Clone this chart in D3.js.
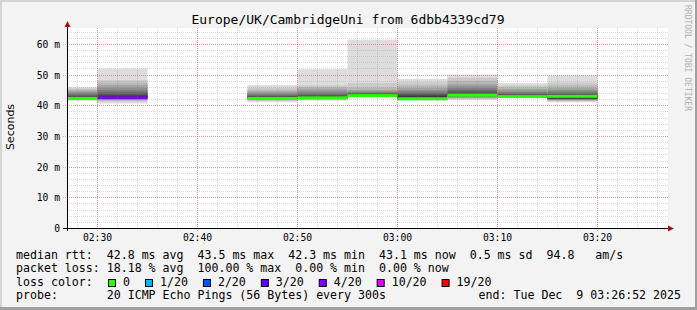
<!DOCTYPE html>
<html>
<head>
<meta charset="utf-8">
<script src="https://cdn.jsdelivr.net/npm/d3@7"></script>
<style>
  html, body { margin: 0; padding: 0; background: #f3f3f3; }
  svg { display: block; }
  text { font-family: "DejaVu Sans Mono", monospace; fill: #000; }
</style>
</head>
<body>
<svg id="chart" width="697" height="310"></svg>
<script>
// ---- data ----
var title = "Europe/UK/CambridgeUni from 6dbb4339cd79";

// each step is 300s, the value is stamped at the end of the step
var stepEnds = ["02:30", "02:35", "02:40", "02:45", "02:50", "02:55", "03:00", "03:05", "03:10", "03:15", "03:20"];
var medians = [42.4, 42.6, null, null, 42.4, 42.6, 43.3, 42.3, 43.5, 43.0, 43.1];
var lossCounts = [0, 4, 20, 20, 0, 0, 0, 0, 0, 0, 0];

// sorted ping rtts (ms) for every step, null when everything was lost
var pings = [
    [41.5, 41.8, 42.0, 42.1, 42.2, 42.3, 42.3, 42.4, 42.4, 42.5, 42.6, 42.8, 43.1, 43.5, 43.9, 44.3, 44.8, 45.1, 45.5, 46.0],
    [40.6, 41.2, 41.6, 41.9, 42.1, 42.3, 42.4, 42.5, 42.6, 42.7, 42.9, 43.3, 43.8, 44.4, 45.0, 45.8, 46.6, 47.4, 48.2, 52.0],
    null,
    null,
    [41.0, 41.4, 41.7, 41.9, 42.0, 42.1, 42.2, 42.3, 42.4, 42.5, 42.6, 42.8, 43.0, 43.3, 43.7, 44.1, 44.6, 45.1, 45.8, 46.6],
    [41.5, 41.8, 42.0, 42.2, 42.3, 42.4, 42.5, 42.5, 42.6, 42.7, 42.8, 43.0, 43.3, 43.7, 44.2, 44.8, 45.4, 46.0, 46.5, 51.8],
    [42.7, 42.8, 42.9, 43.0, 43.1, 43.2, 43.2, 43.3, 43.3, 43.4, 43.5, 43.6, 43.8, 44.0, 44.3, 44.6, 45.0, 45.8, 47.3, 61.4],
    [41.5, 41.7, 41.9, 42.0, 42.1, 42.2, 42.2, 42.3, 42.3, 42.6, 42.9, 43.2, 43.6, 44.0, 44.5, 45.0, 45.7, 46.5, 47.5, 48.6],
    [41.8, 42.0, 42.2, 42.4, 42.6, 42.8, 43.0, 43.2, 43.4, 43.5, 43.6, 44.0, 44.5, 45.0, 45.6, 46.3, 47.0, 48.0, 49.0, 50.0],
    [42.4, 42.5, 42.6, 42.7, 42.8, 42.8, 42.9, 42.9, 43.0, 43.1, 43.2, 43.4, 43.6, 43.9, 44.3, 44.8, 45.3, 45.9, 46.5, 47.3],
    [41.0, 41.3, 41.5, 41.7, 41.8, 41.9, 42.0, 42.1, 42.2, 42.3, 43.1, 43.4, 43.7, 44.0, 44.5, 45.0, 45.7, 46.5, 47.4, 49.8]
];

var yTicks = [0, 10, 20, 30, 40, 50, 60];
var lossSteps = [0, 1, 2, 3, 4, 10, 19];
var lossLabels = ["0", "1/20", "2/20", "3/20", "4/20", "10/20", "19/20"];
var lossColors = ["#26ff00", "#00b8ff", "#0059ff", "#5e00ff", "#7e00ff", "#dd00ff", "#ff0000"];

var rttStats = ["42.8", "43.5", "42.3", "43.1", "0.5", "94.8"];
var lossStats = ["18.18", "100.00", "0.00", "0.00"];
var probeText = "20 ICMP Echo Pings (56 Bytes) every 300s";
var endText = "end: Tue Dec  9 03:26:52 2025";

// ---- chart ----
var W = 697, H = 310;
var svg = d3.select("#chart");
var parseT = d3.timeParse("%H:%M");

var x = d3.scaleTime()
    .domain([parseT("02:27"), parseT("03:27")])
    .range([67.5, 667.5]);
var y = d3.scaleLinear()
    .domain([0, 65.2])
    .range([228.5, 28.5]);

// frame shading
svg.append("rect").attr("width", W).attr("height", H).attr("fill", "#f3f3f3");
svg.append("rect").attr("x", 0).attr("y", 0).attr("width", W).attr("height", 2).attr("fill", "#d4d4d4");
svg.append("rect").attr("x", 0).attr("y", 0).attr("width", 2).attr("height", H).attr("fill", "#d4d4d4");
svg.append("rect").attr("x", 0).attr("y", H - 3).attr("width", W).attr("height", 3).attr("fill", "#a0a0a0");
svg.append("rect").attr("x", W - 2).attr("y", 0).attr("width", 2).attr("height", H).attr("fill", "#a0a0a0");

// canvas
svg.append("rect")
    .attr("x", 67).attr("y", 28)
    .attr("width", 601).attr("height", 200)
    .attr("fill", "#ffffff");

// smoke
var smokeG = svg.append("g");
var half = 10;
stepEnds.forEach(function(e, i) {
    if (!pings[i]) return;
    var t1 = parseT(e);
    var t0 = d3.timeMinute.offset(t1, -5);
    var x0 = Math.max(x(t0), 68), x1 = x(t1);
    var p = pings[i];
    for (var k = 0; k < half; k++) {
        var g = Math.floor(190 / half * (half - (k + 1))) + 50;
        var lo = p[k], hi = p[p.length - 1 - k];
        smokeG.append("rect")
            .attr("x", x0)
            .attr("width", x1 - x0)
            .attr("y", y(hi) - 0.5)
            .attr("height", Math.max(y(lo) - y(hi), 0.6))
            .attr("fill", d3.rgb(g, g, g));
    }
});

// median line coloured by loss
function lossColor(c) {
    var idx = 0;
    lossSteps.forEach(function(s, j) { if (c >= s) idx = j; });
    return lossColors[idx];
}
stepEnds.forEach(function(e, i) {
    if (medians[i] == null) return;
    var t1 = parseT(e);
    var t0 = d3.timeMinute.offset(t1, -5);
    var x0 = Math.max(x(t0), 68), x1 = x(t1);
    svg.append("rect")
        .attr("x", x0).attr("width", x1 - x0)
        .attr("y", y(medians[i]) - 1.5).attr("height", 3)
        .attr("fill", lossColor(lossCounts[i]));
});

// grid (drawn over the graph like rrdtool)
var grid = svg.append("g").attr("stroke-dasharray", "1,1").attr("shape-rendering", "crispEdges");
var minorX = d3.timeMinute.every(2).range(parseT("02:28"), parseT("03:27"));
var majorX = x.ticks(d3.timeMinute.every(10));
var minorY = d3.range(2, 65.2, 2);

grid.selectAll(".mx").data(minorX).enter().append("line")
    .attr("x1", function(d) { return x(d); }).attr("x2", function(d) { return x(d); })
    .attr("y1", 28).attr("y2", 228)
    .attr("stroke", "rgba(140,140,140,0.3)");
grid.selectAll(".my").data(minorY).enter().append("line")
    .attr("x1", 67).attr("x2", 668)
    .attr("y1", function(d) { return y(d); }).attr("y2", function(d) { return y(d); })
    .attr("stroke", "rgba(140,140,140,0.3)");
grid.selectAll(".Mx").data(majorX).enter().append("line")
    .attr("x1", function(d) { return x(d); }).attr("x2", function(d) { return x(d); })
    .attr("y1", 28).attr("y2", 231)
    .attr("stroke", "rgba(215,40,40,0.35)");
grid.selectAll(".My").data(yTicks.slice(1)).enter().append("line")
    .attr("x1", 63).attr("x2", 668)
    .attr("y1", function(d) { return y(d); }).attr("y2", function(d) { return y(d); })
    .attr("stroke", "rgba(215,40,40,0.35)");

// axes
var axisG = svg.append("g").attr("shape-rendering", "crispEdges");
axisG.append("line").attr("x1", 63).attr("x2", 669).attr("y1", y(0)).attr("y2", y(0)).attr("stroke", "#000");
axisG.append("line").attr("x1", x.range()[0]).attr("x2", x.range()[0]).attr("y1", 231).attr("y2", 25).attr("stroke", "#000");
svg.append("path").attr("d", "M668,225.5 L674,228.5 L668,231.5 Z").attr("fill", "#a01414");
svg.append("path").attr("d", "M64.5,27 L67.5,21 L70.5,27 Z").attr("fill", "#a01414");

// y labels
svg.selectAll(".ylab").data(yTicks).enter().append("text")
    .attr("x", 60)
    .attr("y", function(d) { return y(d); })
    .attr("dy", "0.36em")
    .attr("text-anchor", "end")
    .style("font-size", "9.7px")
    .text(function(d) { return d === 0 ? "0" : d + " m"; });

// x labels
var fmt = d3.timeFormat("%H:%M");
svg.selectAll(".xlab").data(majorX).enter().append("text")
    .attr("x", function(d) { return x(d); })
    .attr("y", 241)
    .attr("text-anchor", "middle")
    .style("font-size", "9.7px")
    .text(function(d) { return fmt(d); });

// title
svg.append("text")
    .attr("x", 348).attr("y", 24)
    .attr("text-anchor", "middle")
    .style("font-size", "13px")
    .text(title);

// y axis title
svg.append("text")
    .attr("transform", "translate(14,127) rotate(-90)")
    .attr("text-anchor", "middle")
    .style("font-family", "'DejaVu Sans', sans-serif")
    .style("font-size", "11px")
    .text("Seconds");

// watermark
svg.append("text")
    .attr("transform", "translate(685,5) rotate(90)")
    .style("font-size", "8px")
    .style("fill", "#b0b0b0")
    .text("RRDTOOL / TOBI OETIKER");

// legend / stats
var legFont = "11.6px";
var line1 = "median rtt:  " + rttStats[0] + " ms avg  " + rttStats[1] + " ms max  " + rttStats[2] +
    " ms min  " + rttStats[3] + " ms now  " + rttStats[4] + " ms sd  " + rttStats[5] + "   am/s";
var line2 = "packet loss: " + lossStats[0] + " % avg  " + lossStats[1] + " % max  " + lossStats[2] +
    " % min  " + lossStats[3] + " % now";
var line4 = "probe:       " + probeText;

[[line1, 258.5], [line2, 272], ["loss color:", 285.7], [line4, 299]].forEach(function(l) {
    svg.append("text")
        .attr("x", 16).attr("y", l[1])
        .style("font-size", legFont)
        .style("white-space", "pre")
        .text(l[0]);
});
svg.append("text")
    .attr("x", 681).attr("y", 299)
    .attr("text-anchor", "end")
    .style("font-size", legFont)
    .style("white-space", "pre")
    .text(endText);

var cursor = 108;
lossLabels.forEach(function(lbl, i) {
    svg.append("rect")
        .attr("x", cursor + 0.5).attr("y", 279.5)
        .attr("width", 7).attr("height", 7)
        .attr("fill", lossColors[i])
        .attr("stroke", "#000").attr("stroke-width", 1);
    var t = svg.append("text")
        .attr("x", cursor + 15).attr("y", 285.7)
        .style("font-size", legFont)
        .text(lbl);
    cursor = cursor + 15 + t.node().getComputedTextLength() + 15;
});
</script>
</body>
</html>
